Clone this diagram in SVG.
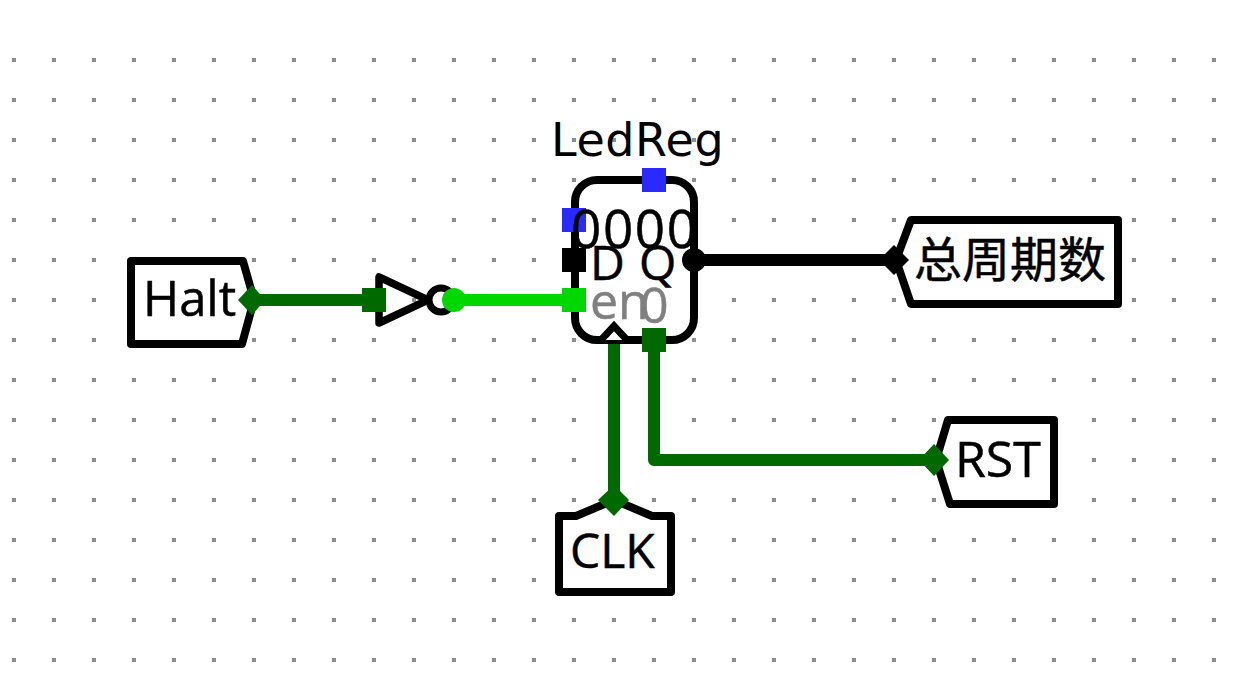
<svg xmlns="http://www.w3.org/2000/svg" width="1236" height="686" viewBox="0 0 1236 686">
<style>
text{font-family:"Open Sans","Noto Sans CJK SC",sans-serif;font-size:48px;fill:#000;stroke:#000;stroke-width:.5}
.lbl{font-family:"DejaVu Sans","Noto Sans CJK SC",sans-serif;font-size:46px;stroke:none}
.box{fill:#fff;stroke:#000;stroke-width:8;stroke-linejoin:round}
.w{fill:none;stroke-width:12;stroke-linecap:round;stroke-linejoin:round}
.dk{stroke:#006a00}.lm{stroke:#00d600}.bk{stroke:#000}
.fdk{fill:#006a00}.flm{fill:#00d600}.fbk{fill:#000}.fbl{fill:#2a2aff}
text.g{fill:#808080;stroke:#808080}
</style>
<defs>
<pattern id="grid" x="12" y="18" width="40" height="40" patternUnits="userSpaceOnUse"><rect width="4" height="4" fill="#8f8f8f"/></pattern>
</defs>
<rect id="dots" x="12" y="58" width="1204" height="604" fill="url(#grid)"/>
<g id="connectors">
<path class="w dk" d="M252 300H374"/>
<path class="w lm" d="M454 300H574"/>
<path class="w bk" d="M694 260H894"/>
<path class="w dk" d="M614 340V500"/>
<path class="w dk" d="M654 340V460H934"/>
</g>
<g id="halt">
<path class="box" d="M131 261H243L254 300L242 344H131Z"/>
<text x="143" y="316" style="font-size:49px">Halt</text>
<path class="fdk" d="M252 285L265 300L252 315L238 300Z"/>
</g>
<g id="inverter">
<path d="M379 277V323L428 300Z" fill="none" stroke="#000" stroke-width="7.5" stroke-linejoin="round"/>
<circle cx="441" cy="300" r="12" fill="none" stroke="#000" stroke-width="7"/>
<rect class="fdk" x="362" y="288" width="24" height="24"/>
<circle class="flm" cx="454" cy="300" r="12"/>
</g>
<g id="ledreg">
<text class="lbl" x="551" y="156" letter-spacing=".6">LedReg</text>
<rect class="box" x="575" y="180" width="119" height="160" rx="22"/>
<path d="M601 340L614 326L627 340" fill="#fff" stroke="#000" stroke-width="7"/>
<rect class="fbl" x="642" y="168" width="24" height="24"/>
<rect class="fbl" x="562" y="208" width="24" height="24"/>
<rect class="fbk" x="562" y="248" width="24" height="24"/>
<rect class="flm" x="562" y="288" width="24" height="24"/>
<rect class="fdk" x="642" y="328" width="24" height="24"/>
<circle class="fbk" cx="694" cy="260" r="12"/>
<text x="571" y="248" style="font-size:53px" letter-spacing="1.6">0000</text>
<text x="590" y="280">D</text>
<text x="639" y="280">Q</text>
<text class="g" x="590" y="319" style="font-size:50px">en</text>
<text class="g" x="640" y="323" style="font-size:50px">0</text>
</g>
<g id="total">
<path class="box" d="M911 220H1118V304H911L896 260Z"/>
<text x="914" y="277">总周期数</text>
<path class="fbk" d="M894 245L909 260L894 275L879 260Z"/>
</g>
<g id="rst">
<path class="box" d="M948 420H1054V504H950L936 460Z"/>
<text x="955" y="477" style="font-size:50px">RST</text>
<path class="fdk" d="M934 444L949 460L934 476L919 460Z"/>
</g>
<g id="clk">
<path class="box" d="M559 516H576L614 500L652 516H671V592H559Z"/>
<text x="570" y="568">CLK</text>
<path class="fdk" d="M614 485L629 500L614 516L598 500Z"/>
</g>
</svg>
